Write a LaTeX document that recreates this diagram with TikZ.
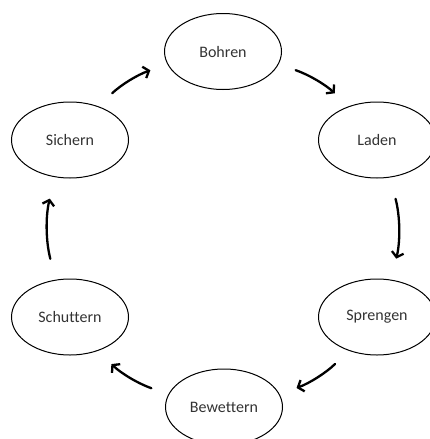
\documentclass[tikz,border=0pt]{standalone}
\usepackage{fontspec}
\setmainfont{Carlito}[Ligatures=NoCommon]
\usetikzlibrary{shapes.geometric,arrows.meta}
\begin{document}
\begin{tikzpicture}[x=1pt,y=-1pt,
  stage/.style={ellipse,draw=black,line width=1pt,minimum width=117pt,minimum height=76pt,inner sep=0pt,font=\fontsize{16}{19}\selectfont,text=black!80},
  flow/.style={line width=2.3pt,-{Straight Barb[length=5pt,width=12pt]},line cap=round}]
\useasboundingbox (0,0) rectangle (429,439);
\node[stage] (bohren) at (223,51.5) {Bohren};
\node[stage] (laden) at (377,140) {Laden};
\node[stage] (sprengen) at (377,317) {Sprengen};
\node[stage] (bewettern) at (224,407) {Bewettern};
\node[stage] (schuttern) at (70,317) {Schuttern};
\node[stage] (sichern) at (70,140) {Sichern};
\draw[flow,shorten <=19pt,shorten >=18pt] (sichern.50) to[bend left=12] (bohren.193);
\draw[flow,shorten <=18pt,shorten >=19pt] (bohren.347) to[bend left=12] (laden.130);
\draw[flow,shorten <=22pt,shorten >=21.5pt] (laden.289) to[bend left=14] (sprengen.69);
\draw[flow,shorten <=19pt,shorten >=18pt] (sprengen.230) to[bend left=12] (bewettern.13);
\draw[flow,shorten <=18pt,shorten >=19pt] (bewettern.167) to[bend left=12] (schuttern.309);
\draw[flow,shorten <=21.5pt,shorten >=22pt] (schuttern.111) to[bend left=14] (sichern.248);
\end{tikzpicture}
\end{document}
